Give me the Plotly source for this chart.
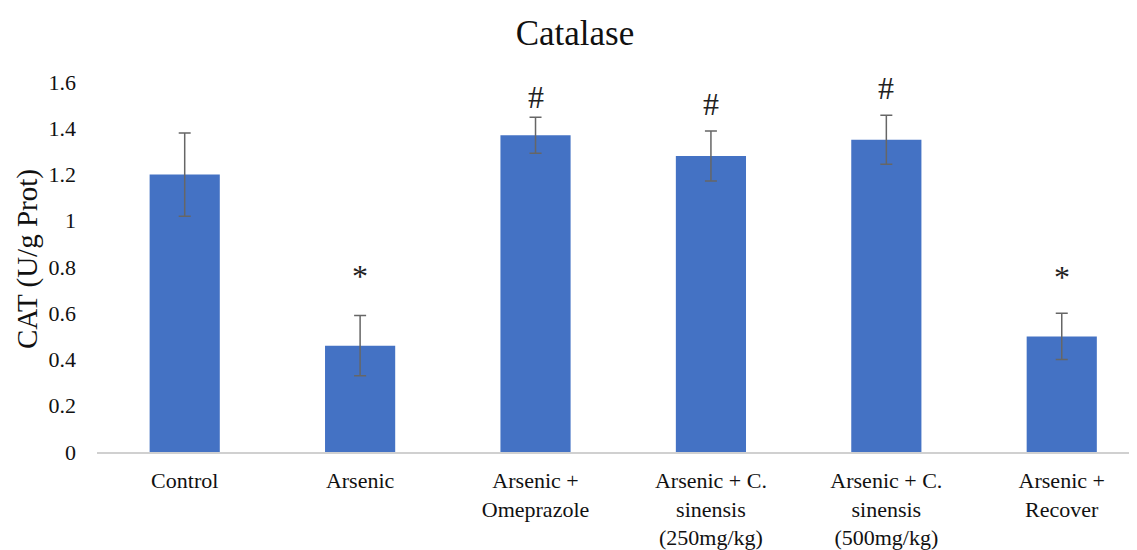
import plotly.graph_objects as go

categories = ["Control", "Arsenic", "Arsenic +<br>Omeprazole",
              "Arsenic + C.<br>sinensis<br>(250mg/kg)",
              "Arsenic + C.<br>sinensis<br>(500mg/kg)",
              "Arsenic +<br>Recover"]
cat_values = [1.20, 0.46, 1.37, 1.28, 1.35, 0.50]
cat_errors = [0.18, 0.13, 0.078, 0.108, 0.106, 0.10]
sig_marks = ["", "*", "#", "#", "#", "*"]
sig_y = [None, 0.76, 1.536, 1.503, 1.573, 0.757]
y_ticks = [0, 0.2, 0.4, 0.6, 0.8, 1, 1.2, 1.4, 1.6]
y_ticktext = ["0", "0.2", "0.4", "0.6", "0.8", "1", "1.2", "1.4", "1.6"]

FONT = "Liberation Serif"

W, H = 1129, 542  # page body has an 8px margin

fig = go.Figure()
fig.add_trace(go.Bar(
    x=list(range(len(categories))), y=cat_values, width=0.4,
    marker=dict(color="#4472C4", line=dict(width=0)),
    error_y=dict(type="data", array=cat_errors, visible=True,
                 color="#666666", thickness=1.5, width=6),
))

for i, (m, yy) in enumerate(zip(sig_marks, sig_y)):
    if m:
        fig.add_annotation(x=i, y=yy, text=m, showarrow=False,
                           xref="x", yref="y", yanchor="middle",
                           font=dict(family=FONT, size=32, color="#222222"))

fig.add_annotation(text="CAT (U/g Prot)", xref="paper", yref="paper",
                   x=0, y=0.5, xshift=-70, yshift=8, textangle=-90,
                   showarrow=False, xanchor="center", yanchor="middle",
                   font=dict(family=FONT, size=29, color="#111111"))

fig.update_layout(
    width=W, height=H,
    margin=dict(l=89, r=0, t=74, b=98),
    paper_bgcolor="white", plot_bgcolor="white",
    showlegend=False,
    title=dict(text="Catalase", x=567/W, xanchor="center",
               y=1 - 25/H, yanchor="middle",
               font=dict(family=FONT, size=35, color="#111111")),
    font=dict(family=FONT, color="#111111"),
)
fig.update_xaxes(
    tickmode="array", tickvals=list(range(len(categories))), ticktext=categories,
    range=[-0.5, 5.429], showgrid=False, zeroline=False,
    showline=True, linecolor="#d0d0d0", linewidth=1.5, ticks="",
    tickfont=dict(family=FONT, size=22, color="#111111"),
    ticklabelstandoff=8,
)
fig.update_yaxes(
    range=[0, 1.6], tickmode="array", tickvals=y_ticks, ticktext=y_ticktext,
    showgrid=False, zeroline=False, showline=False, ticks="",
    tickfont=dict(family=FONT, size=22, color="#111111"),
    ticklabelstandoff=20,
)

fig.write_html("out.html")
